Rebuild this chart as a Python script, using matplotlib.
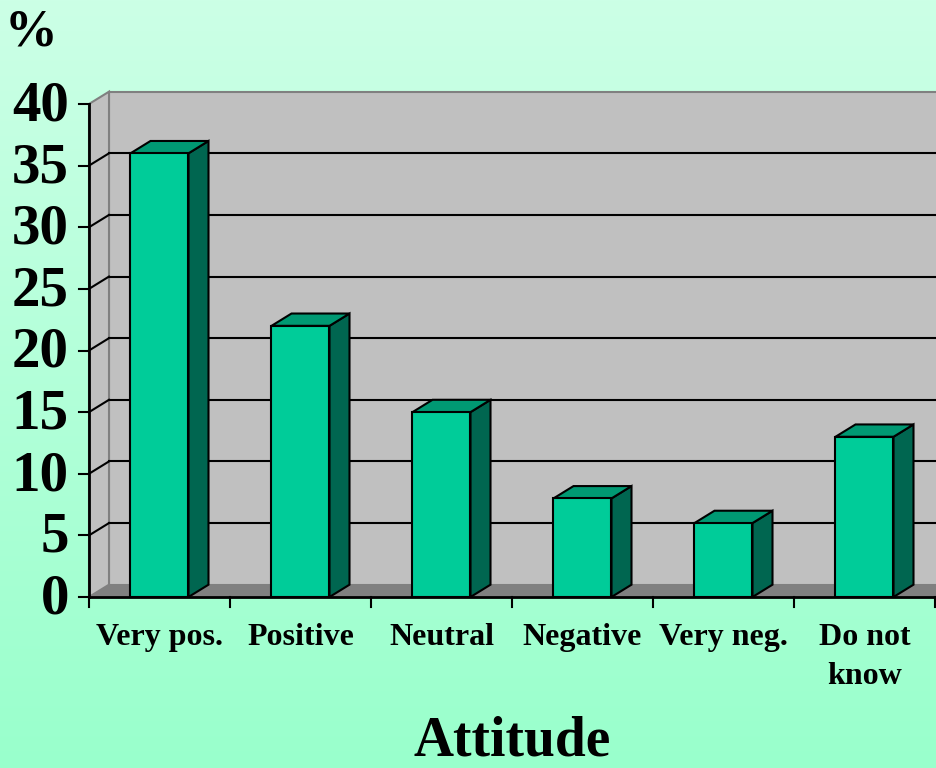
import numpy as np
import matplotlib
matplotlib.use("Agg")
import matplotlib.pyplot as plt
from matplotlib.patches import Polygon, Rectangle

categories = ["Very pos.", "Positive", "Neutral", "Negative", "Very neg.", "Do not\nknow"]
values = [36, 22, 15, 8, 6, 13]
yticks = [0, 5, 10, 15, 20, 25, 30, 35, 40]

plt.rcParams['font.family'] = ['Liberation Serif', 'DejaVu Serif']
plt.rcParams['font.weight'] = 'bold'

fig = plt.figure(figsize=(9.37, 7.68), dpi=100)

# gradient background
bg = fig.add_axes([0, 0, 1, 1])
grad = np.linspace(0, 1, 256).reshape(-1, 1)
top = np.array([204, 255, 230]) / 255
bot = np.array([153, 255, 204]) / 255
img = top + (bot - top) * grad[:, :, None]
bg.imshow(img, aspect='auto', extent=[0, 1, 0, 1], origin='upper')
bg.axis('off')

W, H = 937, 768
ax = fig.add_axes([89 / W, (H - 597) / H, (935 - 89) / W, (597 - 104) / H])
ax.set_xlim(-0.5, 5.5)
ax.set_ylim(0, 40)
ax.axis('off')

d = 20 / 141.0   # depth offset in x (category units)
e = 1.0          # depth offset in y (value units)
x0, x1 = -0.5, 5.5 + 1.0
ymax = 40

# back wall
ax.add_patch(Polygon([(x0 + d, e), (x1, e), (x1, ymax + e), (x0 + d, ymax + e)],
                     closed=True, facecolor='#C0C0C0', edgecolor='#808080', lw=1.5,
                     clip_on=False, zorder=1))
# left wall
ax.add_patch(Polygon([(x0, 0), (x0 + d, e), (x0 + d, ymax + e), (x0, ymax)],
                     closed=True, facecolor='#C0C0C0', edgecolor='#808080', lw=1.5,
                     clip_on=False, zorder=1))
# floor
ax.add_patch(Polygon([(x0, 0), (x1, 0), (x1, e), (x0 + d, e)],
                     closed=True, facecolor='#808080', edgecolor='#808080', lw=1,
                     clip_on=False, zorder=1.5))

# gridlines on walls
for v in yticks[1:-1]:
    ax.plot([x0 + d, x1], [v + e, v + e], color='black', lw=1.5, clip_on=False, zorder=2)
    ax.plot([x0, x0 + d], [v, v + e], color='black', lw=1.5, clip_on=False, zorder=2)

# axes lines and ticks
ax.plot([x0, x0], [0, ymax], color='black', lw=2, clip_on=False, zorder=3)
ax.plot([x0, 5.6], [0, 0], color='black', lw=2, clip_on=False, zorder=3)
tk_y = 10 / 141.0
tk_x = 10 / 12.33
for v in yticks:
    ax.plot([x0 - tk_y, x0], [v, v], color='black', lw=1.5, clip_on=False, zorder=3)
    ax.text(x0 - 20 / 141.0, v - 0.2, str(v), ha='right', va='center', fontsize=41,
            fontweight='bold')
for i in range(len(categories) + 1):
    ax.plot([x0 + i, x0 + i], [0, -tk_x], color='black', lw=1.5, clip_on=False, zorder=3)

# bars
bw = 58 / 141.0
for i, (c, v) in enumerate(zip(categories, values)):
    l, r = i - bw / 2, i + bw / 2
    ax.add_patch(Polygon([(r, 0), (r + d, e), (r + d, v + e), (r, v)], closed=True,
                         facecolor='#006650', edgecolor='black', lw=1.5, zorder=5))
    ax.add_patch(Polygon([(l, v), (r, v), (r + d, v + e), (l + d, v + e)], closed=True,
                         facecolor='#009973', edgecolor='black', lw=1.5, zorder=5))
    ax.add_patch(Rectangle((l, 0), bw, v, facecolor='#00CC99', edgecolor='black',
                           lw=1.5, zorder=6))
    ax.text(i, -2.15, c, ha='center', va='top', fontsize=23, fontweight='bold',
            linespacing=1.45)

fig.text(31 / W, 1 - 33 / H, '%', ha='center', va='center', fontsize=38, fontweight='bold')
fig.text(512 / W, 1 - 741 / H, 'Attitude', ha='center', va='center', fontsize=40,
         fontweight='bold')

fig.savefig('out.png', dpi=100)
